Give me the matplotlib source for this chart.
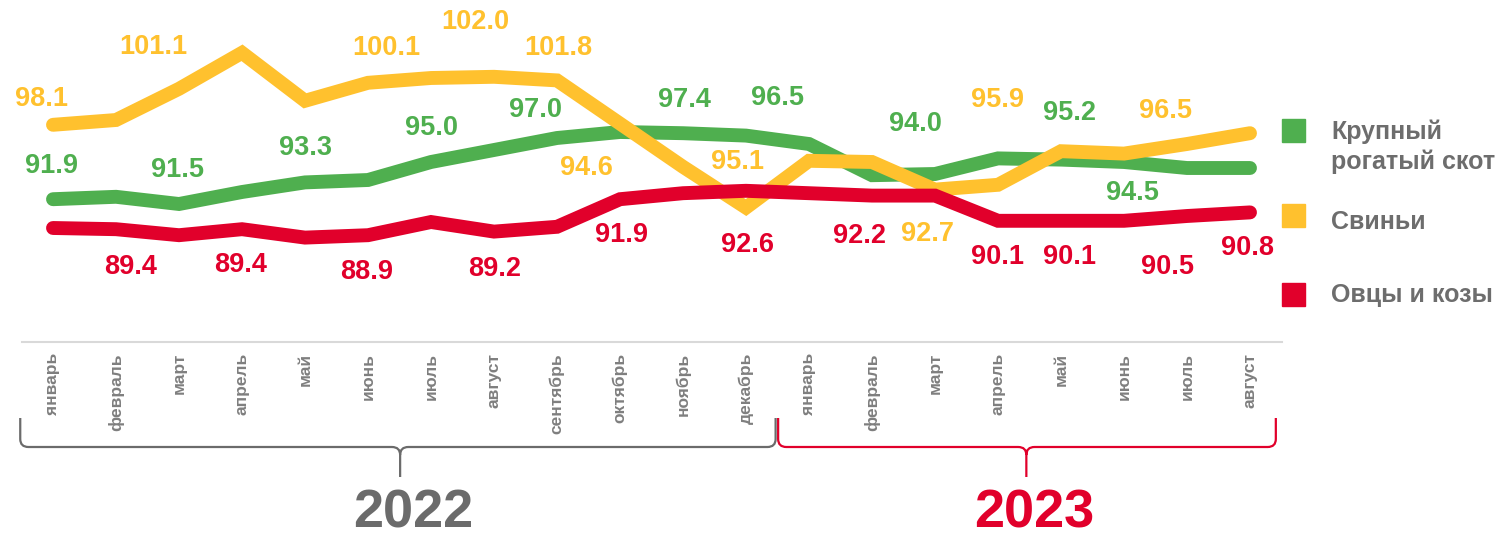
import matplotlib
matplotlib.use('Agg')
import matplotlib.pyplot as plt
from matplotlib.path import Path
from matplotlib.patches import PathPatch, Rectangle
from matplotlib.transforms import blended_transform_factory

plt.rcParams['font.family'] = ['Liberation Sans', 'DejaVu Sans']
plt.rcParams['font.weight'] = 'bold'

# данные: январь 2022 - август 2023
months = ['январь', 'февраль', 'март', 'апрель', 'май', 'июнь', 'июль', 'август',
          'сентябрь', 'октябрь', 'ноябрь', 'декабрь',
          'январь', 'февраль', 'март', 'апрель', 'май', 'июнь', 'июль', 'август']
cattle = [91.9, 92.1, 91.5, 92.5, 93.3, 93.5, 95.0, 96.0, 97.0, 97.5,
          97.4, 97.2, 96.5, 93.9, 94.0, 95.3, 95.2, 95.0, 94.5, 94.5]
pigs = [98.1, 98.5, 101.1, 104.1, 100.1, 101.6, 102.0, 102.1, 101.8, 98.2,
        94.6, 91.2, 95.1, 95.0, 92.7, 93.1, 95.9, 95.7, 96.5, 97.4]
sheep = [89.5, 89.4, 88.9, 89.4, 88.7, 88.9, 90.0, 89.2, 89.6, 91.9,
         92.4, 92.6, 92.4, 92.2, 92.2, 90.1, 90.1, 90.1, 90.5, 90.8]
names = ['Крупный\nрогатый скот', 'Свиньи', 'Овцы и козы']
years = ['2022', '2023']

# подписанные точки
cattle_lab = [0, 2, 4, 6, 8, 10, 12, 14, 16, 18]
pigs_lab = [0, 2, 4, 6, 8, 10, 12, 14, 16, 18]
sheep_lab = [1, 3, 5, 7, 9, 11, 13, 15, 16, 18, 19]

# смещения подписей (пиксели, вниз +)
cattle_off = [(-2, -33), (-2, -34), (0, -34), (1, -34), (-21, -28), (1, -33),
              (-31, -46), (-20, -50), (8, -47), (-55, 25)]
pigs_off = [(-12, -26), (-26, -42), (81, -53), (44, -56), (1, -32), (-97, 1),
            (-72, 1), (-7, 44), (-64, -51), (-21, -33)]
sheep_off = [(15, 38), (-1, 36), (-1, 37), (1, 37), (1, 36), (1, 54),
             (-13, 40), (-1, 36), (9, 36), (-20, 51), (-3, 36)]

GREEN = '#4FAF4F'
YELLOW = '#FFC12E'
RED = '#E1002B'
GREY = '#6B6B6B'

W, H = 1509, 537
fig = plt.figure(figsize=(W / 100, H / 100), dpi=100)

# служебная ось на всю фигуру, в пикселях
deco = fig.add_axes([0, 0, 1, 1])
deco.set_xlim(0, W)
deco.set_ylim(H, 0)
deco.axis('off')

ax = fig.add_axes([21.5 / W, (H - 342) / H, 1260 / W, 324 / H])
ax.set_xlim(-0.5, 19.5)
ax.set_ylim(80, 107)
ax.patch.set_alpha(0)
x = list(range(len(months)))

series = [
    (cattle, GREEN, cattle_lab, cattle_off),
    (pigs, YELLOW, pigs_lab, pigs_off),
    (sheep, RED, sheep_lab, sheep_off),
]
for vals, col, labs, offs in series:
    ax.plot(x, vals, color=col, lw=10, solid_capstyle='round',
            solid_joinstyle='miter', zorder=2)
    for i, (dx, dy) in zip(labs, offs):
        ax.annotate(f'{vals[i]:.1f}', (i, vals[i]), xytext=(dx, -dy),
                    textcoords='offset pixels', ha='center', va='center',
                    color=col, fontsize=19.5, fontweight='bold', zorder=3)

for s in ['top', 'left', 'right']:
    ax.spines[s].set_visible(False)
ax.spines['bottom'].set_color('#D9D9D9')
ax.spines['bottom'].set_linewidth(1.5)
ax.set_yticks([])
ax.set_xticks(x)
ax.set_xticklabels(months, rotation=90, va='top', ha='center',
                   fontsize=12.5, color='#7F7F7F', fontweight='bold')
ax.tick_params(axis='x', length=0, pad=8)

# фигурные скобки под годами
tr = blended_transform_factory(ax.transData, deco.transData)


def brace(x0, x1, xm, color):
    r = 0.13
    top, base, tip, c = 418, 447, 477, 8
    verts = [(x0, top), (x0, base - c), (x0, base), (x0 + r, base),
             (xm - r, base), (xm, base), (xm, base + c), (xm, tip),
             (xm, base + c), (xm, base), (xm + r, base),
             (x1 - r, base), (x1, base), (x1, base - c), (x1, top)]
    codes = [Path.MOVETO, Path.LINETO, Path.CURVE3, Path.CURVE3,
             Path.LINETO, Path.CURVE3, Path.CURVE3, Path.LINETO,
             Path.MOVETO, Path.CURVE3, Path.CURVE3,
             Path.LINETO, Path.CURVE3, Path.CURVE3, Path.LINETO]
    deco.add_patch(PathPatch(Path(verts, codes), transform=tr, fill=False,
                             edgecolor=color, lw=1.6, clip_on=False))


brace(-0.52, 11.47, 5.51, GREY)
brace(11.51, 19.41, 15.45, RED)

deco.text(413, 513, years[0], ha='center', va='center', fontsize=39,
          fontweight='bold', color=GREY)
deco.text(1034, 514, years[1], ha='center', va='center', fontsize=39,
          fontweight='bold', color=RED)

# легенда
leg = [(GREEN, 119, 130), (YELLOW, 204, 222), (RED, 283, 295)]
for (col, sq_y, ty), name in zip(leg, names):
    deco.add_patch(Rectangle((1282, sq_y), 23, 23, color=col))
    if '\n' in name:
        ty = ty + 16.5
    deco.text(1331, ty, name, ha='left', va='center', fontsize=18,
              fontweight='bold', color='#6D6D6D', linespacing=1.3)

fig.savefig('out.png', dpi=100)
